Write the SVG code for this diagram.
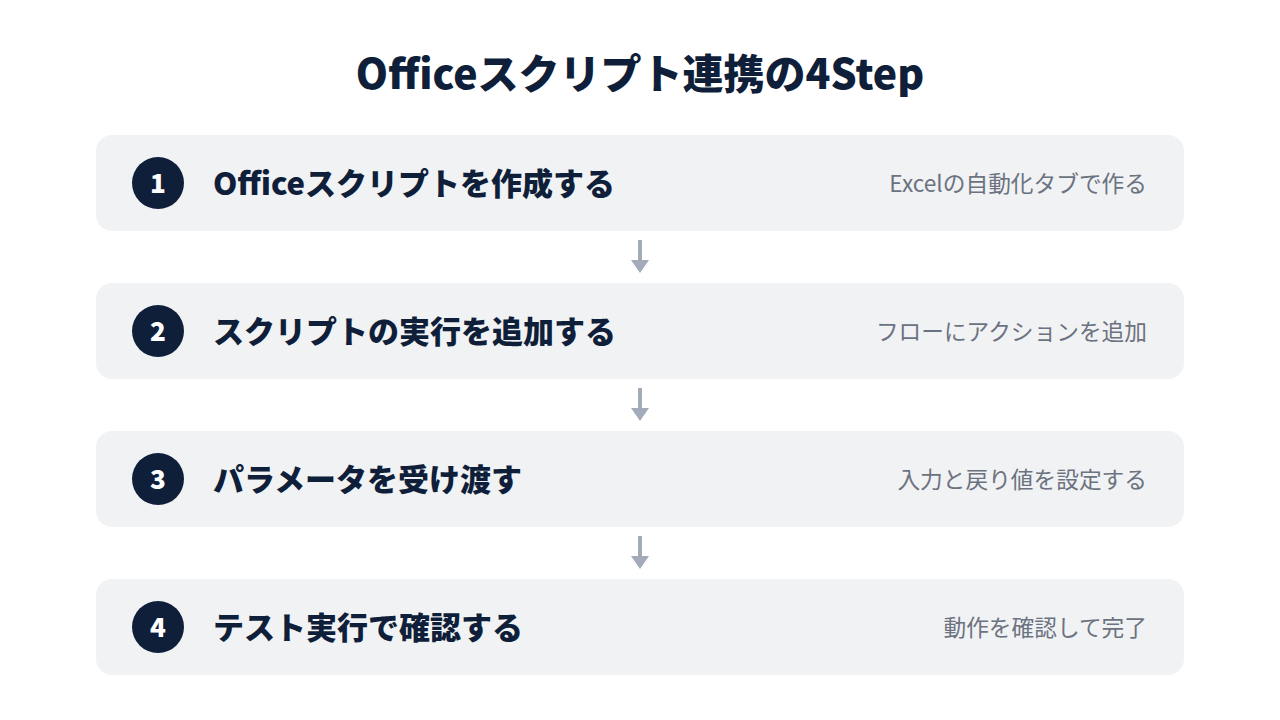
<svg xmlns="http://www.w3.org/2000/svg" width="1280" height="720" viewBox="0 0 1280 720">
<defs>
<style>
.card{fill:#f1f2f4}
.num{fill:#0f1f3a}
.numt{fill:#ffffff;font-family:"Noto Sans CJK JP","Noto Sans",sans-serif;font-weight:800;font-size:26px;text-anchor:middle}
.t{fill:#0f1f3a;font-family:"Noto Sans CJK JP","Noto Sans",sans-serif;font-weight:800;font-size:31px}
.s{fill:#6b7280;font-family:"Noto Sans CJK JP","Noto Sans",sans-serif;font-size:22.7px;text-anchor:end}
.h{fill:#0f1f3a;font-family:"Noto Sans CJK JP","Noto Sans",sans-serif;font-weight:800;font-size:41px;text-anchor:middle}
.conn{stroke:#a3abb9;stroke-width:4;fill:none}
.head{fill:#a3abb9}
</style>
</defs>
<rect width="1280" height="720" fill="#ffffff"/>
<text id="title" class="h" x="640" y="89">Officeスクリプト連携の4Step</text>
<g id="step1">
<rect class="card" x="96" y="135" width="1088" height="96" rx="16"/>
<circle class="num" cx="158" cy="183" r="26"/>
<text class="numt" x="158" y="193">1</text>
<text class="t" x="213" y="195">Officeスクリプトを作成する</text>
<text class="s" x="1147" y="192">Excelの自動化タブで作る</text>
</g>
<g id="step2">
<rect class="card" x="96" y="283" width="1088" height="96" rx="16"/>
<circle class="num" cx="158" cy="331" r="26"/>
<text class="numt" x="158" y="341">2</text>
<text class="t" x="213" y="343">スクリプトの実行を追加する</text>
<text class="s" x="1147" y="340">フローにアクションを追加</text>
</g>
<g id="step3">
<rect class="card" x="96" y="431" width="1088" height="96" rx="16"/>
<circle class="num" cx="158" cy="479" r="26"/>
<text class="numt" x="158" y="489">3</text>
<text class="t" x="213" y="491">パラメータを受け渡す</text>
<text class="s" x="1147" y="488">入力と戻り値を設定する</text>
</g>
<g id="step4">
<rect class="card" x="96" y="579" width="1088" height="96" rx="16"/>
<circle class="num" cx="158" cy="627" r="26"/>
<text class="numt" x="158" y="637">4</text>
<text class="t" x="213" y="639">テスト実行で確認する</text>
<text class="s" x="1147" y="636">動作を確認して完了</text>
</g>
<g id="connectors">
<line class="conn" x1="640" y1="240" x2="640" y2="262"/>
<polygon class="head" points="631,260 649,260 640,273"/>
<line class="conn" x1="640" y1="388" x2="640" y2="410"/>
<polygon class="head" points="631,408 649,408 640,421"/>
<line class="conn" x1="640" y1="536" x2="640" y2="558"/>
<polygon class="head" points="631,556 649,556 640,569"/>
</g>
</svg>
